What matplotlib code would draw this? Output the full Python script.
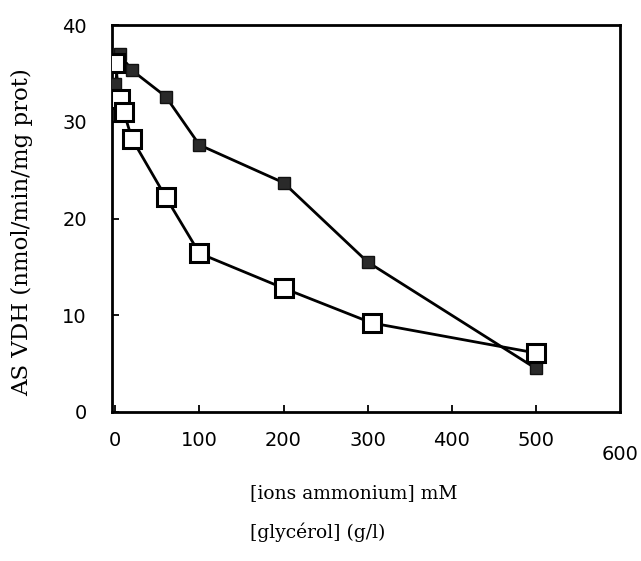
import numpy as np
import matplotlib
matplotlib.use('Agg')
import matplotlib.pyplot as plt

# ammonium ions (mM) - filled squares
x_nh4=[0, 5, 20, 60, 100, 200, 300, 500]
y_nh4=[33.9, 37.0, 35.3, 32.6, 27.6, 23.7, 15.5, 4.5]

# glycerol (g/l) - open squares
x_gly=[0, 5, 10, 20, 60, 100, 200, 305, 500]
y_gly=[36.1, 32.4, 31.0, 28.2, 22.2, 16.4, 12.8, 9.2, 6.1]

xticks=[0, 100, 200, 300, 400, 500]
yticks=[0, 10, 20, 30, 40]

fig=plt.figure(figsize=(6.41,5.61),dpi=100)
ax=fig.add_axes([0.1747,0.2656,0.7925,0.6898])

ax.plot(x_gly,y_gly,color='black',lw=2,zorder=2)
ax.plot(x_nh4,y_nh4,color='black',lw=2,zorder=3)
ax.plot(x_nh4,y_nh4,ls='none',marker='s',ms=9,mfc='#2a2a2a',mec='#111111',mew=1,zorder=4)
ax.plot(x_gly,y_gly,ls='none',marker='s',ms=12.5,mfc='white',mec='black',mew=2.2,zorder=5)

ax.set_xlim(-4,600)
ax.set_ylim(0,40)

for s in ax.spines.values():
    s.set_linewidth(2)

ax.set_xticks(xticks)
ax.set_xticklabels([str(v) for v in xticks])
ax.set_yticks(yticks)
ax.set_yticklabels([str(v) for v in yticks])
ax.tick_params(axis='both',direction='in',length=5,width=1.3,labelsize=14)
ax.tick_params(axis='x',pad=14)
ax.tick_params(axis='y',pad=18)
for lab in ax.get_xticklabels()+ax.get_yticklabels():
    lab.set_family('DejaVu Sans')

# last x label sits a little lower
ax.text(600,-3.4,'600',ha='center',va='top',fontsize=14,family='DejaVu Sans',clip_on=False)

ax.set_ylabel('AS VDH (nmol/min/mg prot)',family='DejaVu Serif',fontsize=16.5)
ax.yaxis.set_label_coords(-0.155,0.465)

fig.text(250/641,1-493/561,'[ions ammonium] mM',family='DejaVu Serif',fontsize=13.5,ha='left',va='center')
fig.text(250/641,1-532/561,'[glycérol] (g/l)',family='DejaVu Serif',fontsize=13.5,ha='left',va='center')

plt.savefig('out.png',dpi=100)
